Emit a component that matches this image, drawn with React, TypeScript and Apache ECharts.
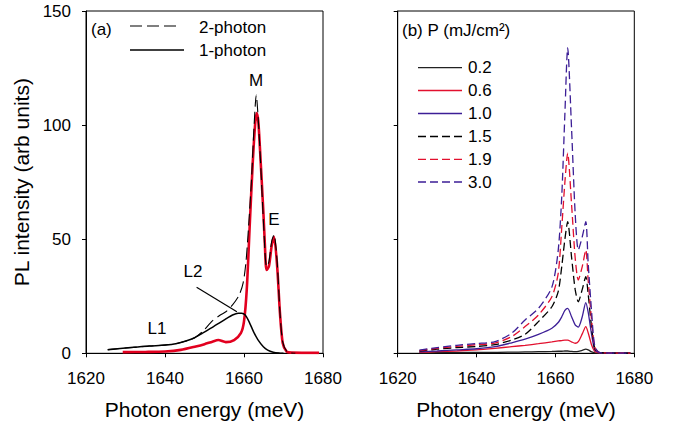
import React, { useEffect, useRef } from "react";
import * as echarts from "echarts";

// ---------- Panel (a) data ----------
const twoPhotonE = [1625.5, 1628, 1632, 1636, 1640, 1643, 1645.3, 1647.5, 1649.5, 1652, 1654, 1655.4, 1657.1, 1658.8, 1659.8, 1660.5, 1661.1, 1661.9, 1662.5, 1663.1, 1663.7, 1664.3, 1665, 1665.7, 1666.3, 1667, 1667.6, 1668.4, 1669.1, 1669.8, 1671, 1673];
const twoPhotonI = [1.6, 2.0, 2.6, 3.2, 3.6, 4.3, 5.4, 6.8, 9.5, 14.2, 16.8, 18.2, 21.2, 25.6, 31, 40, 54, 76, 98, 113.2, 100, 80, 55, 38, 40, 49, 52, 40, 18, 5, 0.5, 0];

const onePhotonE = [1625.5, 1628, 1632, 1636, 1640, 1643, 1645.3, 1647.5, 1649.5, 1651.5, 1653.7, 1655.5, 1657.1, 1658.5, 1659.4, 1660.3, 1661.3, 1662.4, 1663.5, 1664.9, 1666, 1667.4, 1669, 1670];
const onePhotonI = [1.6, 2.0, 2.6, 3.2, 3.6, 4.3, 5.4, 6.8, 8.8, 10.9, 13.2, 15.2, 16.8, 17.6, 17.6, 16.8, 13.8, 9.5, 6, 2.9, 1.4, 0.5, 0.1, 0];

const redE = [1629.3, 1635, 1640, 1644, 1647.8, 1650, 1652, 1653.5, 1655.4, 1657.5, 1659.2, 1660, 1660.7, 1661.5, 1662.2, 1662.8, 1663.2, 1663.6, 1664, 1664.9, 1665.3, 1665.7, 1666.3, 1667, 1667.6, 1668.4, 1669.1, 1669.8, 1670.8, 1672, 1679];
const redI = [0.5, 0.6, 0.8, 1.5, 3.0, 4.0, 5.1, 5.8, 4.9, 5.8, 8.8, 14, 28, 58, 83, 100, 105.3, 102, 91, 62, 47, 36.5, 38, 47, 51.1, 38, 17.7, 4.5, 0.7, 0.3, 0.2];

// ---------- Panel (b) data ----------
const powerLabels = ["0.2", "0.6", "1.0", "1.5", "1.9", "3.0"];
const energyB = [1625.5, 1630, 1635, 1640, 1644.7, 1648.9, 1652.3, 1655.7, 1659.1, 1660.7, 1661.6, 1662.4, 1663.1, 1664.1, 1665, 1665.8, 1666.8, 1667.7, 1668.3, 1669.2, 1670, 1671.3, 1675, 1679];
const p02 = [0.2, 0.3, 0.3, 0.4, 0.4, 0.5, 0.6, 0.7, 0.8, 0.9, 0.9, 1.0, 1.0, 0.8, 0.7, 0.8, 1.3, 1.8, 1.5, 0.6, 0.2, 0.1, 0.1, 0.1];
const p06 = [0.4, 0.7, 1.0, 1.5, 2.2, 2.9, 3.5, 4.2, 5.0, 5.4, 5.6, 5.8, 5.8, 5.0, 4.4, 5.1, 8.5, 11.7, 9, 3.5, 0.8, 0.2, 0.1, 0.1];
const p10 = [0.6, 1.0, 1.5, 2.0, 2.9, 4.6, 6.2, 8.3, 11, 13.5, 16, 18.8, 19.7, 16, 12.5, 11.5, 16, 22.2, 18, 8, 1.5, 0.2, 0.1, 0.1];
const p15 = [1.0, 1.8, 2.5, 3.0, 3.8, 5.8, 8.3, 13.9, 20.4, 27, 38, 50, 57.7, 42, 28, 22.6, 28, 33.6, 26, 11, 2, 0.3, 0.1, 0.1];
const p19 = [1.2, 2.2, 3.0, 3.8, 4.5, 7.3, 11.7, 16.8, 24.8, 35, 55, 75, 87.7, 65, 42, 32.1, 38, 45.3, 32, 14, 2.5, 0.3, 0.1, 0.1];
const p30 = [1.4, 2.5, 3.5, 4.3, 5.1, 8.8, 14.6, 19.7, 29, 45, 68.7, 105, 133.8, 98, 61.4, 45.3, 51, 57.7, 39.5, 17.5, 2.9, 0.3, 0.1, 0.1];
const powerValues = [p02, p06, p10, p15, p19, p30];
const powerColors = ["#222222", "#e2102e", "#3c1e96", "#000000", "#e2102e", "#3c1e96"];
const powerDashed = [false, false, false, true, true, true];

const xTicks = { min: 1620, max: 1680, interval: 20 };
const yTicks = { min: 0, max: 150, interval: 50 };

const zip = (xs: number[], ys: number[]) => xs.map((x, i) => [x, ys[i]]);

const FONT = "Liberation Sans, Arial, sans-serif";

export default function App() {
  const ref = useRef<HTMLDivElement>(null);
  useEffect(() => {
    if (!ref.current) return;
    const chart = echarts.init(ref.current, null, { renderer: "svg" });

    const gridL = { left: 86, top: 11, width: 237, height: 342.3 };
    const gridR = { left: 397.7, top: 11, width: 236.6, height: 342.3 };

    const xAxisBase = (gi: number) => ({
      type: "value",
      gridIndex: gi,
      ...xTicks,
      name: "Photon energy (meV)",
      nameLocation: "middle",
      nameGap: 46,
      nameTextStyle: { fontSize: 21, color: "#000", fontFamily: FONT },
      axisLine: { show: true, onZero: false, lineStyle: { color: "#000", width: 1 } },
      axisTick: { show: true, inside: false, length: 4, lineStyle: { color: "#000" } },
      axisLabel: { show: true, margin: 17, fontSize: 17, color: "#000", fontFamily: FONT, formatter: (v: number) => String(v) },
      splitLine: { show: false },
    });
    const yAxisBase = (gi: number, labels: boolean) => ({
      type: "value",
      gridIndex: gi,
      ...yTicks,
      name: labels ? "PL intensity (arb units)" : "",
      nameLocation: "middle",
      nameGap: 54,
      nameTextStyle: { fontSize: 21, color: "#000", fontFamily: FONT },
      axisLine: { show: true, onZero: false, lineStyle: { color: "#000", width: 1 } },
      axisTick: { show: true, inside: false, length: 4, lineStyle: { color: "#000" } },
      axisLabel: { show: labels, margin: 15, fontSize: 17, color: "#000", fontFamily: FONT, formatter: (v: number) => String(v) },
      splitLine: { show: false },
    });

    const series: any[] = [
      {
        name: "1-photon-red",
        type: "line",
        xAxisIndex: 0,
        yAxisIndex: 0,
        data: zip(redE, redI),
        showSymbol: false,
        smooth: 0.25,
        lineStyle: { color: "#e2001f", width: 2.6 },
        z: 2,
      },
      {
        name: "1-photon",
        type: "line",
        xAxisIndex: 0,
        yAxisIndex: 0,
        data: zip(onePhotonE, onePhotonI),
        showSymbol: false,
        smooth: 0.25,
        lineStyle: { color: "#000", width: 1.5 },
        z: 3,
        markLine: {
          silent: true,
          symbol: ["none", "arrow"],
          symbolSize: [0, 9],
          label: { show: false },
          lineStyle: { color: "#000", width: 1.2, type: "solid" },
          data: [[{ coord: [1648.0, 28.9] }, { coord: [1658.2, 18.2] }]],
        },
      },
      {
        name: "2-photon",
        type: "line",
        xAxisIndex: 0,
        yAxisIndex: 0,
        data: zip(twoPhotonE, twoPhotonI),
        showSymbol: false,
        smooth: 0.25,
        lineStyle: { color: "#000", width: 1.1, type: [12, 5] },
        z: 4,
      },
    ];
    powerLabels.forEach((lab, i) => {
      series.push({
        name: lab,
        type: "line",
        xAxisIndex: 1,
        yAxisIndex: 1,
        data: zip(energyB, powerValues[i]),
        showSymbol: false,
        smooth: 0.25,
        lineStyle: {
          color: powerColors[i],
          width: 1.3,
          type: powerDashed[i] ? [8, 4] : "solid",
        },
        z: 2 + i,
      });
    });

    const legendText = (x: number, y: number, t: string) => ({
      type: "text",
      x,
      y,
      style: { text: t, fontSize: 17, fill: "#000", fontFamily: FONT, verticalAlign: "middle", align: "left" },
    });
    const legendLine = (x1: number, x2: number, y: number, color: string, dash: number[] | null, w = 1.3) => ({
      type: "line",
      shape: { x1, y1: y, x2, y2: y },
      style: { stroke: color, lineWidth: w, lineDash: dash || undefined },
    });

    const graphics: any[] = [
      legendText(91, 29, "(a)"),
      legendLine(130, 180, 26, "#000", [12, 5], 1.1),
      legendText(199, 27, "2-photon"),
      legendLine(130, 184, 50, "#000", null, 1.3),
      legendText(199, 50, "1-photon"),
      { type: "text", x: 256, y: 80, style: { text: "M", fontSize: 17, fill: "#000", fontFamily: FONT, align: "center", verticalAlign: "middle" } },
      { type: "text", x: 274, y: 219, style: { text: "E", fontSize: 17, fill: "#000", fontFamily: FONT, align: "center", verticalAlign: "middle" } },
      { type: "text", x: 193, y: 271, style: { text: "L2", fontSize: 17, fill: "#000", fontFamily: FONT, align: "center", verticalAlign: "middle" } },
      { type: "text", x: 157, y: 328, style: { text: "L1", fontSize: 17, fill: "#000", fontFamily: FONT, align: "center", verticalAlign: "middle" } },
      legendText(402, 30, "(b) P (mJ/cm²)"),
    ];
    const rowY = [67.7, 90.5, 113.5, 136.5, 159.3, 182];
    powerLabels.forEach((lab, i) => {
      graphics.push(legendLine(418, 462, rowY[i], powerColors[i], powerDashed[i] ? [8, 4] : null, 1.3));
      graphics.push(legendText(468, rowY[i], lab));
    });

    chart.setOption({
      animation: false,
      backgroundColor: "#fff",
      grid: [
        { ...gridL, show: true, borderColor: "#000", borderWidth: 1, backgroundColor: "transparent" },
        { ...gridR, show: true, borderColor: "#000", borderWidth: 1, backgroundColor: "transparent" },
      ],
      xAxis: [xAxisBase(0), xAxisBase(1)],
      yAxis: [yAxisBase(0, true), yAxisBase(1, false)],
      series,
      graphic: graphics,
    });
    return () => chart.dispose();
  }, []);
  return <div ref={ref} style={{ position: "fixed", left: 0, top: 0, width: 673, height: 427 }} />;
}
